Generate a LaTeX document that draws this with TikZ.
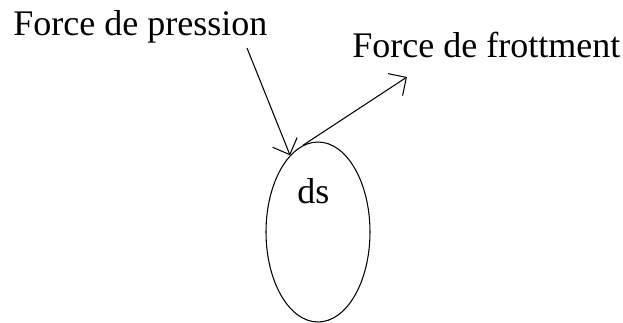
\documentclass[tikz,border=0pt]{standalone}
\usepackage{fontspec}
\setmainfont{Liberation Serif}
\usetikzlibrary{arrows.meta,positioning,shapes.geometric}

\begin{document}
\begin{tikzpicture}[x=0.02cm, y=-0.02cm,
        label/.style={inner sep=0pt,anchor=base west,font=\fontsize{20.5}{24}\selectfont},
        surf/.style={ellipse,draw,line width=0.6pt,minimum width=2.08cm,minimum height=3.6cm,inner sep=0pt},
        force/.style={-{Straight Barb[length=7.5pt,width=15pt]},line width=0.6pt}]
        \useasboundingbox (0,0) rectangle (623,322);
        \node[surf] (ds) at (318,232) {};
        \node[label] (dslabel) at (297,203) {ds};
        \node[label] (pression) at (13,35) {Force de pression};
        \node[label] (frottement) at (352,57) {Force de frottment};
        \coordinate (ptail) at (247,48);
        \coordinate (fhead) at (407,77);
        \draw[force] (ptail) -- (ds.110);
        \draw[force] (ds.100) -- (fhead);
      \end{tikzpicture}
\end{document}
